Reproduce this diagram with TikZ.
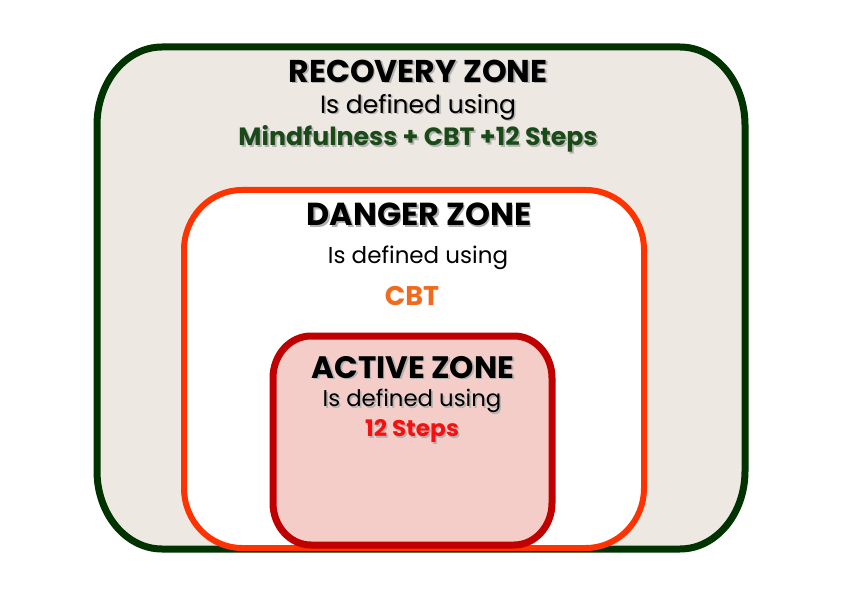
\documentclass[tikz,border=0pt]{standalone}
\usepackage{fontspec}
\usepackage{graphicx}
\setmainfont{Poppins}

\definecolor{recovline}{HTML}{003300}
\definecolor{recovfill}{HTML}{EDE8E2}
\definecolor{dangerline}{HTML}{FF3300}
\definecolor{activeline}{HTML}{C00000}
\definecolor{activefill}{HTML}{F4CDC9}
\definecolor{mindgreen}{HTML}{1A4A17}
\definecolor{cbtorange}{HTML}{F26A1B}
\definecolor{stepsred}{HTML}{F81010}

% text with a soft drop shadow
\newcommand\shadowed[1]{\makebox[0pt][l]{\kern1.6pt\raisebox{-1.6pt}{\textcolor{black!30}{#1}}}#1}

% rounded box with elliptical corners: x1 y1 x2 y2 rx ry
\newcommand\zoneshape[6]{(#1,#2+#6) -- (#1,#4-#6)
  arc[start angle=180,end angle=90,x radius=#5pt,y radius=#6pt] -- (#3-#5,#4)
  arc[start angle=90,end angle=0,x radius=#5pt,y radius=#6pt] -- (#3,#2+#6)
  arc[start angle=0,end angle=-90,x radius=#5pt,y radius=#6pt] -- (#1+#5,#2)
  arc[start angle=270,end angle=180,x radius=#5pt,y radius=#6pt] -- cycle}

\begin{document}
\begin{tikzpicture}[x=1pt,y=1pt,
  zonetitle/.style = {inner sep=0pt, font=\fontsize{31.5}{31.5}\selectfont\bfseries},
  deftext/.style = {inner sep=0pt, font=\fontsize{25}{25}\selectfont},
  tooltext/.style = {inner sep=0pt, font=\fontsize{24}{24}\selectfont\bfseries}]
\useasboundingbox (0,0) rectangle (842,595);

% the three zones
\draw[recovline, line width=7pt, fill=recovfill] \zoneshape{97}{46}{745}{548}{65}{78};
\draw[dangerline, line width=6pt, fill=white] \zoneshape{184}{47}{644}{405}{58}{60};
\draw[activeline, line width=7pt, fill=activefill] \zoneshape{273}{50}{552}{259}{38}{42};

% recovery zone
\node[zonetitle] (recov) at (418,523) {\shadowed{RECOVERY ZONE}};
\node[deftext] (recovdef) at (418,487) {\shadowed{Is defined using}};
\node[tooltext, text=mindgreen] (recovtool) at (418,455)
  {\resizebox{359pt}{20pt}{\shadowed{Mindfulness + CBT +12 Steps}}};

% danger zone
\node[zonetitle, font=\fontsize{31.8}{31.8}\selectfont\bfseries] (danger) at (419,380) {\shadowed{DANGER ZONE}};
\node[deftext, font=\fontsize{23}{23}\selectfont] (dangerdef) at (418,337) {Is defined using};
\node[inner sep=0pt, font=\fontsize{27}{27}\selectfont\bfseries, text=cbtorange] (dangertool) at (412,299) {CBT};

% active zone
\node[zonetitle, font=\fontsize{31}{31}\selectfont\bfseries] (active) at (413,227) {\shadowed{ACTIVE ZONE}};
\node[deftext, font=\fontsize{22.8}{22.8}\selectfont] (activedef) at (412,193) {\shadowed{Is defined using}};
\node[tooltext, text=stepsred] (activetool) at (412,163)
  {\resizebox{94pt}{17pt}{\shadowed{12 Steps}}};
\end{tikzpicture}
\end{document}
